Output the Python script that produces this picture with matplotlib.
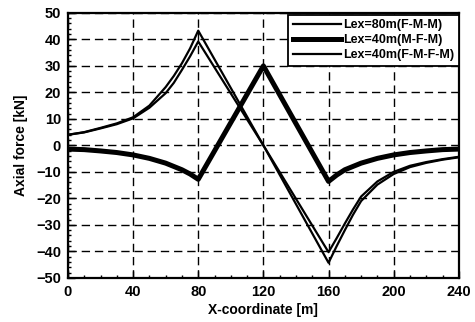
import matplotlib.pyplot as plt
from matplotlib.ticker import MultipleLocator

x = [0, 10, 20, 30, 40, 50, 60, 65, 70, 75, 80, 120, 160, 165, 170, 175, 180,
     190, 200, 210, 220, 230, 240]
fmm_80 = [4, 5.0, 6.6, 8.3, 10.6, 15.0, 22.0, 26.2, 31.0, 36.6, 43.3, 0,
          -44.3, -38.0, -32.0, -26.2, -21.0, -14.8, -10.8, -8.2, -6.6, -5.4, -4.5]
fmfm_40 = [4, 4.9, 6.4, 8.0, 10.2, 14.2, 19.7, 23.6, 28.5, 33.6, 39.2, 0,
           -40.3, -35.0, -29.5, -24.2, -19.3, -13.6, -10.0, -7.7, -6.3, -5.2, -4.3]
x_mfm = [0, 10, 20, 30, 40, 50, 60, 70, 75, 80, 120, 160, 165, 170, 180, 190,
         200, 210, 220, 230, 240]
mfm_40 = [-1.4, -1.6, -2.1, -2.7, -3.6, -4.9, -6.7, -9.2, -10.8, -12.8, 30,
          -13.6, -11.2, -9.2, -6.7, -4.9, -3.6, -2.7, -2.1, -1.6, -1.4]

plt.rcParams['font.family'] = ['Liberation Sans', 'DejaVu Sans']
plt.rcParams['font.weight'] = 'bold'

fig = plt.figure(figsize=(4.75, 3.22), dpi=100)
ax = fig.add_axes([0.143, 0.137, 0.823, 0.823])

ax.plot(x, fmm_80, color='black', lw=1.6, label='Lex=80m(F-M-M)')
ax.plot(x_mfm, mfm_40, color='black', lw=3.6, label='Lex=40m(M-F-M)')
ax.plot(x, fmfm_40, color='black', lw=1.6, label='Lex=40m(F-M-F-M)')

ax.set_xlim(0, 240)
ax.set_ylim(-50, 50)
ax.xaxis.set_major_locator(MultipleLocator(40))
ax.xaxis.set_minor_locator(MultipleLocator(10))
ax.yaxis.set_major_locator(MultipleLocator(10))
ax.yaxis.set_minor_locator(MultipleLocator(2))
ax.tick_params(which='both', direction='in', labelsize=10.5, width=1)
ax.tick_params(which='major', length=5, pad=5)
ax.tick_params(which='minor', length=2.5)
for lab in ax.get_xticklabels() + ax.get_yticklabels():
    lab.set_fontweight('bold')
for s in ax.spines.values():
    s.set_linewidth(1.6)

ax.grid(True, which='major', color='black', ls=(0, (6, 3.5)), lw=1.0)

ax.set_xlabel('X-coordinate [m]', fontsize=10, fontweight='bold', labelpad=3)
ax.set_ylabel('Axial force [kN]', fontsize=10, fontweight='bold', labelpad=6)

leg = ax.legend(loc='upper right', bbox_to_anchor=(1.0, 0.993), fontsize=9,
                frameon=True, fancybox=False, edgecolor='black', framealpha=1,
                borderaxespad=0, handlelength=3.9, handletextpad=0.15,
                labelspacing=0.25, borderpad=0.35)
leg.get_frame().set_linewidth(1.3)
for t in leg.get_texts():
    t.set_fontweight('bold')

plt.savefig('out.png', dpi=100)
